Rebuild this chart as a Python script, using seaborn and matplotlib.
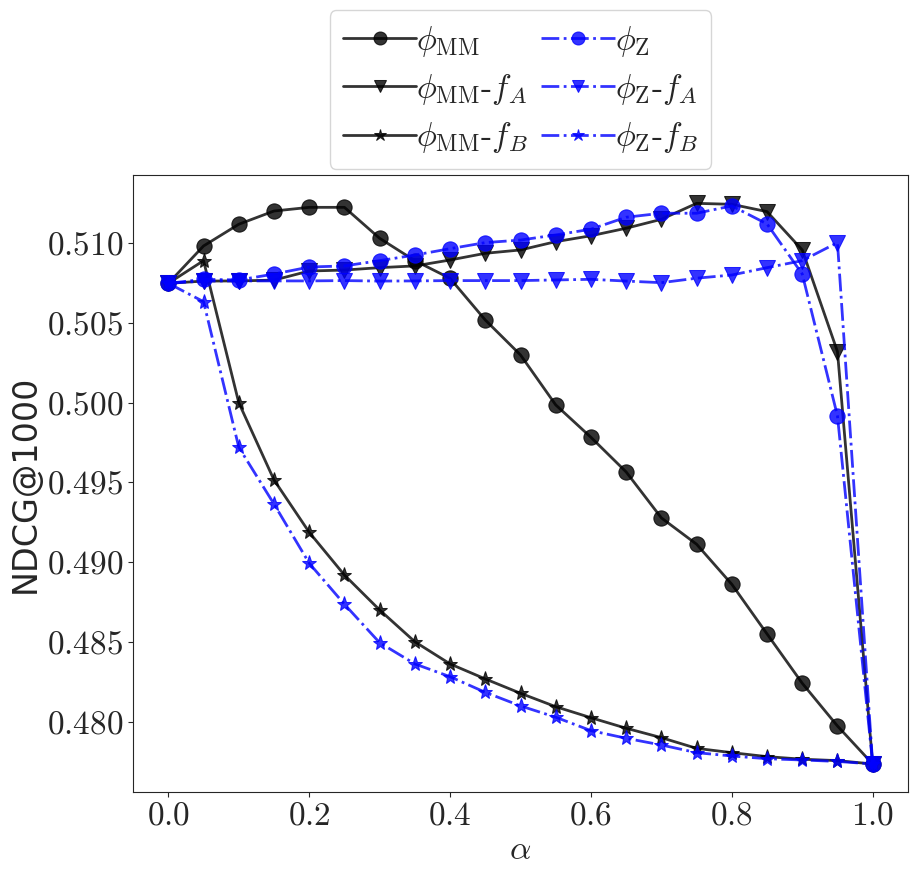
import numpy as np
import pandas as pd
import matplotlib
matplotlib.use('Agg')
import matplotlib.pyplot as plt
from matplotlib.ticker import FuncFormatter
import seaborn as sns

alpha = [0.0, 0.05, 0.1, 0.15, 0.2, 0.25, 0.3, 0.35, 0.4, 0.45, 0.5,
         0.55, 0.6, 0.65, 0.7, 0.75, 0.8, 0.85, 0.9, 0.95, 1.0]

phi_mm = [0.50748, 0.50982, 0.51118, 0.51201, 0.51224, 0.51224, 0.51030,
          0.50890, 0.50779, 0.50518, 0.50299, 0.49986, 0.49783, 0.49566,
          0.49278, 0.49113, 0.48862, 0.48551, 0.48242, 0.47974, 0.47736]
phi_mm_fa = [0.50748, 0.50762, 0.50763, 0.50768, 0.50825, 0.50831, 0.50846,
             0.50857, 0.50894, 0.50936, 0.50957, 0.51009, 0.51046, 0.51093,
             0.51149, 0.51249, 0.51243, 0.51197, 0.50957, 0.50320, 0.47736]
phi_mm_fb = [0.50748, 0.50890, 0.50000, 0.49516, 0.49188, 0.48920, 0.48701,
             0.48502, 0.48363, 0.48269, 0.48179, 0.48095, 0.48026, 0.47960,
             0.47901, 0.47834, 0.47807, 0.47782, 0.47766, 0.47757, 0.47736]
phi_z = [0.50748, 0.50773, 0.50769, 0.50806, 0.50850, 0.50857, 0.50890,
         0.50925, 0.50965, 0.51003, 0.51019, 0.51051, 0.51087, 0.51162,
         0.51187, 0.51187, 0.51233, 0.51120, 0.50806, 0.49917, 0.47736]
phi_z_fa = [0.50748, 0.50762, 0.50763, 0.50763, 0.50763, 0.50765, 0.50762,
            0.50763, 0.50765, 0.50765, 0.50765, 0.50769, 0.50773, 0.50762,
            0.50752, 0.50780, 0.50800, 0.50846, 0.50890, 0.51003, 0.47736]
phi_z_fb = [0.50748, 0.50633, 0.49721, 0.49365, 0.48994, 0.48737, 0.48496,
            0.48363, 0.48283, 0.48185, 0.48100, 0.48029, 0.47945, 0.47897,
            0.47855, 0.47807, 0.47786, 0.47769, 0.47761, 0.47752, 0.47736]

labels = [r'$\phi_{\rm MM}$', r'$\phi_{\rm MM}$-$f_A$', r'$\phi_{\rm MM}$-$f_B$',
          r'$\phi_{\rm Z}$', r'$\phi_{\rm Z}$-$f_A$', r'$\phi_{\rm Z}$-$f_B$']
series = [phi_mm, phi_mm_fa, phi_mm_fb, phi_z, phi_z_fa, phi_z_fb]
colors = ['black'] * 3 + ['blue'] * 3
markers = ['o', 'v', '*'] * 2
styles = ['-'] * 3 + ['-.'] * 3

sns.set_style('ticks')
plt.rcParams['mathtext.fontset'] = 'cm'
plt.rcParams['font.family'] = ['cmr10', 'DejaVu Sans']
plt.rcParams['axes.formatter.use_mathtext'] = True

fig = plt.figure(figsize=(9.18, 8.81), dpi=100)
ax = fig.add_axes([0.145, 0.101, 0.844, 0.700])

for lab, vals, c, m, ls in zip(labels, series, colors, markers, styles):
    df = pd.DataFrame({'alpha': alpha, 'ndcg': vals})
    sns.lineplot(data=df, x='alpha', y='ndcg', ax=ax, color=c, marker=m,
                 linestyle=ls, linewidth=2, markersize=11, alpha=0.8,
                 markeredgecolor=c, label=lab)

ax.set_xlabel(r'$\alpha$', fontsize=24)
ax.set_ylabel('NDCG@1000', fontsize=24, family='DejaVu Sans')
ax.xaxis.set_major_formatter(FuncFormatter(lambda v, p: f'${v:.1f}$'))
ax.yaxis.set_major_formatter(FuncFormatter(lambda v, p: f'${v:.3f}$'))
ax.tick_params(labelsize=24)

ax.legend(loc='lower center', bbox_to_anchor=(0.5, 1.0), ncol=2, fontsize=24,
          handletextpad=0.0, columnspacing=0.4, handlelength=2.2,
          labelspacing=0.4, markerscale=0.85, borderaxespad=0.2)

fig.savefig('out.png', dpi=100)
